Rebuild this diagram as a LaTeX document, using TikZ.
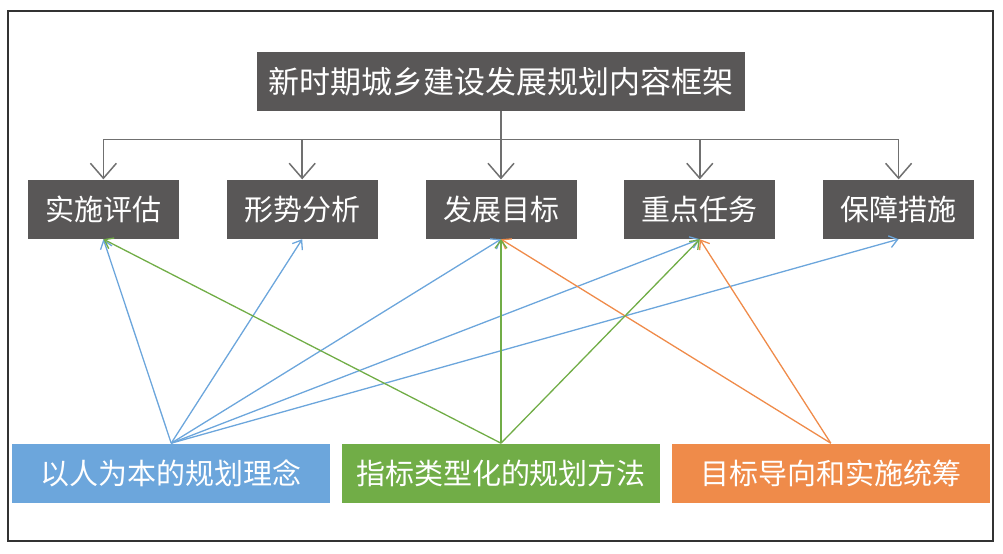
\documentclass[tikz,border=0pt]{standalone}
\usepackage{fontspec}
\newfontfamily\cjk{Noto Sans CJK SC}
\usetikzlibrary{positioning,arrows.meta,calc}

\definecolor{boxgray}{HTML}{595757}
\definecolor{lingray}{HTML}{707070}
\definecolor{boxblue}{HTML}{6CA6DC}
\definecolor{boxgreen}{HTML}{71AD47}
\definecolor{boxorange}{HTML}{EF8B4A}

\begin{document}
\begin{tikzpicture}[
    x=0.5pt, y=0.5pt,
    font=\cjk,
    head/.style={fill=boxgray, text=white, minimum width=75.5pt, minimum height=29.5pt, inner sep=0pt, font=\cjk\fontsize{14.5}{16}\selectfont},
    base/.style={text=white, minimum width=159pt, minimum height=29.5pt, inner sep=0pt, font=\cjk\fontsize{14.5}{16}\selectfont},
    garr/.style={-{Straight Barb[length=7.5pt,width=13pt]}, draw=lingray, line width=0.75pt},
    carr/.style={-{Straight Barb[length=4pt,width=6pt]}, line width=0.65pt}
  ]
    \useasboundingbox (0,0) rectangle (1003,553);
    \draw[black!80, line width=0.7pt] (8,12) rectangle (993,542);

    \node[fill=boxgray, text=white, minimum width=244pt, minimum height=29.5pt, inner sep=0pt, font=\cjk\fontsize{15.5}{18}\selectfont] (kuangjia) at (501,471.5) {新时期城乡建设发展规划内容框架};

    \node[head, below=34pt of kuangjia] (mubiao) {发展目标};
    \node[head, left=23.5pt of mubiao] (xingshi) {形势分析};
    \node[head, left=23.5pt of xingshi] (pinggu) {实施评估};
    \node[head, right=23.5pt of mubiao] (renwu) {重点任务};
    \node[head, right=23.5pt of renwu] (baozhang) {保障措施};

    \node[base, fill=boxgreen, below=102pt of mubiao] (fangfa) {指标类型化的规划方法};
    \node[base, fill=boxblue, left=5.5pt of fangfa] (linian) {以人为本的规划理念};
    \node[base, fill=boxorange, right=5.5pt of fangfa] (tongchou) {目标导向和实施统筹};

    % frame to the five parts
    \coordinate[below=14pt of kuangjia.south] (hub);
    \draw[draw=lingray, line width=0.75pt] (kuangjia.south) -- (hub);
    \foreach \n in {pinggu,xingshi,mubiao,renwu,baozhang}
      \draw[garr] (hub) -| (\n.north);

    % ideas, methods, coordination
    \foreach \n in {pinggu,xingshi,mubiao,renwu,baozhang}
      \draw[carr, draw=boxblue] (linian.north) -- (\n.south);
    \foreach \n in {mubiao,renwu}
      \draw[carr, draw=boxorange] (tongchou.north) -- (\n.south);
    \foreach \n in {pinggu,mubiao,renwu}
      \draw[carr, draw=boxgreen] (fangfa.north) -- (\n.south);
  \end{tikzpicture}
\end{document}
